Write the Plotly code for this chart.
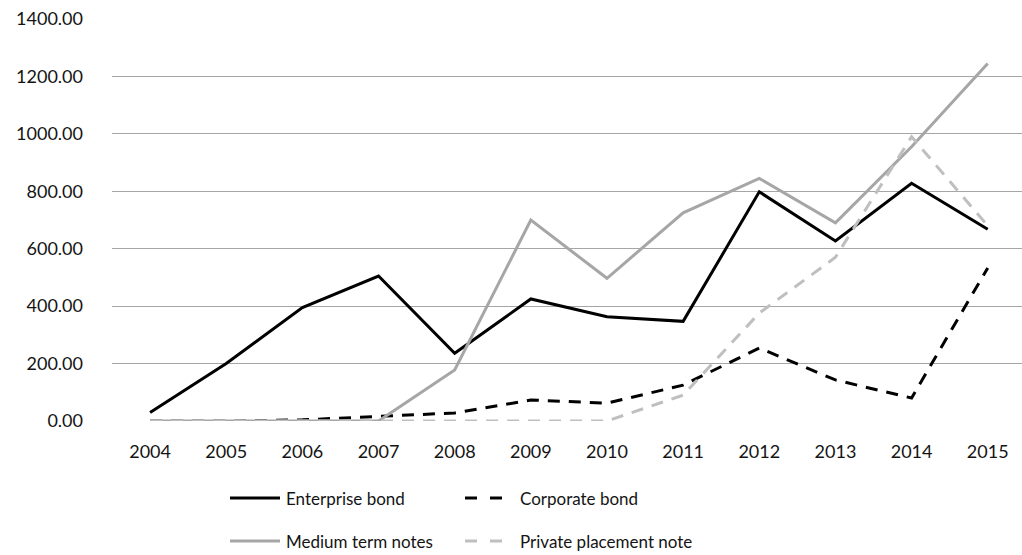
import plotly.graph_objects as go

years = [2004, 2005, 2006, 2007, 2008, 2009, 2010, 2011, 2012, 2013, 2014, 2015]
enterprise = [30, 200, 395, 505, 236, 425, 363, 347, 798, 627, 828, 668]
corporate = [0, 0, 4, 15, 28, 73, 62, 125, 254, 143, 80, 533]
medium = [0, 0, 0, 0, 178, 700, 497, 725, 845, 690, 955, 1245]
private = [0, 0, 0, 0, 0, 0, 0, 90, 376, 570, 990, 680]
y_ticks = [0, 200, 400, 600, 800, 1000, 1200, 1400]

series = [
    ("Enterprise bond", enterprise, "#000000", "solid"),
    ("Corporate bond", corporate, "#000000", "12px,9px"),
    ("Medium term notes", medium, "#a6a6a6", "solid"),
    ("Private placement note", private, "#bfbfbf", "12px,9px"),
]

fig = go.Figure()
for name, vals, color, dash in series:
    fig.add_trace(go.Scatter(x=years, y=vals, mode="lines", name=name,
                             line=dict(color=color, width=3, dash=dash)))

W, H = 1022, 555
ml, mr, mt, mb = 112, 0, 19, 134
tick_font = dict(family="Lato, Open Sans, sans-serif", size=18, color="#141414")
leg_font = dict(family="Lato, Open Sans, sans-serif", size=17, color="#141414")

fig.update_layout(
    width=W, height=H,
    margin=dict(l=ml, r=mr, t=mt, b=mb),
    paper_bgcolor="white", plot_bgcolor="white",
    showlegend=False,
    font=tick_font,
)
fig.update_xaxes(range=[2003.5, 2015.45], tickmode="array", tickvals=years,
                 ticktext=[str(y) for y in years], showgrid=False,
                 showline=False, zeroline=False, ticks="", ticklabelstandoff=18,
                 tickfont=tick_font)
fig.update_yaxes(range=[0, 1400], tickmode="array", tickvals=y_ticks,
                 ticktext=[f"{v:.2f}" for v in y_ticks], showgrid=True,
                 gridcolor="#a6a6a6", gridwidth=1, zeroline=False,
                 showline=False, ticks="", ticklabelstandoff=28,
                 tickfont=tick_font)

# custom legend (2x2) in pixel-based paper coordinates
def px_x(x):
    return (x - ml) / (W - ml - mr)

def px_y(y):
    return (H - mb - y) / (H - mt - mb)

legend_pos = [(230, 498), (465, 498), (230, 541), (465, 541)]
for (name, vals, color, dash), (lx, ly) in zip(series, legend_pos):
    if dash == "solid":
        fig.add_shape(type="line", xref="paper", yref="paper",
                      x0=px_x(lx), x1=px_x(lx + 50), y0=px_y(ly), y1=px_y(ly),
                      line=dict(color=color, width=3))
        tx = lx + 54
    else:
        for seg in [(lx, lx + 12), (lx + 25, lx + 37)]:
            fig.add_shape(type="line", xref="paper", yref="paper",
                          x0=px_x(seg[0]), x1=px_x(seg[1]), y0=px_y(ly), y1=px_y(ly),
                          line=dict(color=color, width=3))
        tx = lx + 53
    fig.add_annotation(text=name, xref="paper", yref="paper",
                       x=px_x(tx), y=px_y(ly), xanchor="left", yanchor="middle",
                       showarrow=False, font=leg_font)

fig.write_html("out.html")
